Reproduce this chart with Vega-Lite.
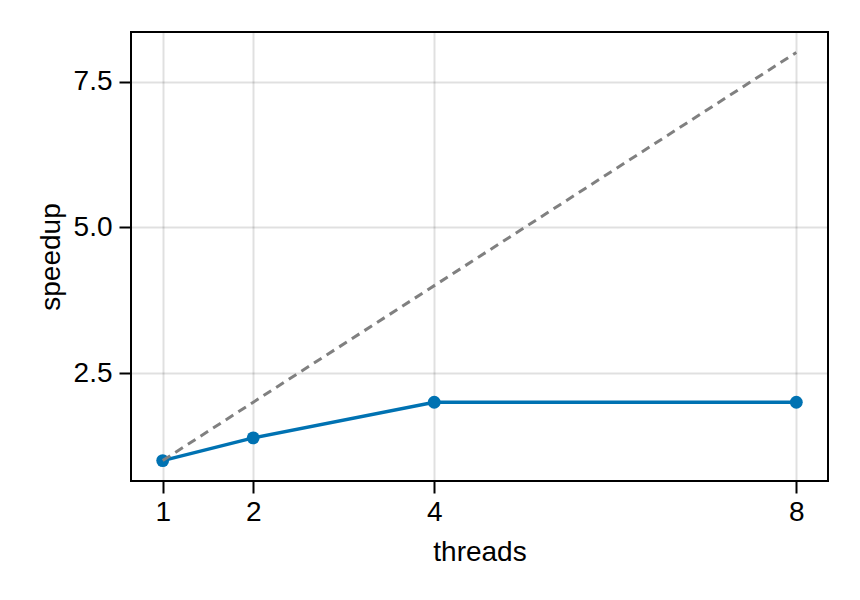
{
  "$schema": "https://vega.github.io/schema/vega-lite/v6.json",
  "width": 697,
  "height": 449,
  "autosize": "none",
  "padding": {"left": 131, "top": 32, "right": 32, "bottom": 119},
  "background": "white",
  "config": {
    "font": "Liberation Sans",
    "view": {"stroke": "black", "strokeWidth": 2},
    "axis": {
      "domain": false,
      "grid": true,
      "gridColor": "#000000",
      "gridOpacity": 0.12,
      "gridWidth": 2,
      "tickColor": "black",
      "tickWidth": 2,
      "tickSize": 12,
      "labelFontSize": 28,
      "labelColor": "black",
      "labelFont": "Liberation Sans",
      "titleFont": "Liberation Sans",
      "titleFontSize": 28,
      "titleFontWeight": "normal",
      "titleColor": "black"
    }
  },
  "datasets": {
    "measured": [
      {"threads": 1, "speedup": 1.0},
      {"threads": 2, "speedup": 1.39},
      {"threads": 4, "speedup": 2.0},
      {"threads": 8, "speedup": 2.0}
    ],
    "ideal": [
      {"threads": 1, "speedup": 1},
      {"threads": 8, "speedup": 8}
    ]
  },
  "layer": [
    {
      "data": {"name": "measured"},
      "mark": {"type": "line", "color": "#0072B2", "strokeWidth": 3.5},
      "encoding": {
        "x": {"field": "threads", "type": "quantitative",
              "scale": {"domain": [0.65, 8.35], "nice": false, "zero": false},
              "axis": {"values": [1, 2, 4, 8], "format": "d", "title": "threads", "labelFontSize": 28, "titleFontSize": 28, "labelPadding": 5, "titlePadding": 12}},
        "y": {"field": "speedup", "type": "quantitative",
              "scale": {"domain": [0.65, 8.35], "nice": false, "zero": false},
              "axis": {"values": [2.5, 5, 7.5], "format": ".1f", "title": "speedup", "labelFontSize": 28, "titleFontSize": 28, "labelPadding": 7, "titlePadding": 8}}
      }
    },
    {
      "data": {"name": "measured"},
      "mark": {"type": "point", "shape": "circle", "filled": true, "color": "#0072B2", "opacity": 1, "size": 165},
      "encoding": {
        "x": {"field": "threads", "type": "quantitative"},
        "y": {"field": "speedup", "type": "quantitative"}
      }
    },
    {
      "data": {"name": "ideal"},
      "mark": {"type": "line", "color": "#808080", "strokeWidth": 3, "strokeDash": [9, 6]},
      "encoding": {
        "x": {"field": "threads", "type": "quantitative"},
        "y": {"field": "speedup", "type": "quantitative"}
      }
    }
  ]
}
